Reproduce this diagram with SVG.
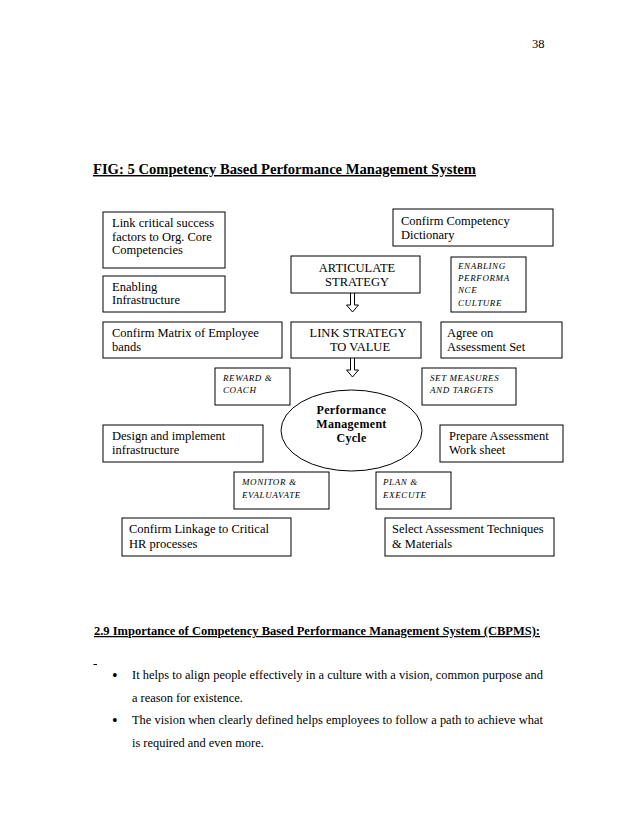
<svg xmlns="http://www.w3.org/2000/svg" width="638" height="826" viewBox="0 0 638 826">
<style>
.box{fill:#fff;stroke:#000;stroke-width:1}
.t{font-family:"Liberation Serif","Times New Roman",serif;font-size:12.5px;fill:#000}
.c{text-anchor:middle}
.it{font-family:"Liberation Serif","Times New Roman",serif;font-size:9px;font-style:italic;letter-spacing:0.6px;fill:#000}
.b{font-family:"Liberation Serif","Times New Roman",serif;font-size:12px;font-weight:bold;fill:#000;text-anchor:middle}
.body{font-family:"Liberation Serif","Times New Roman",serif;font-size:12.4px;fill:#000}
.bul{font-family:"Liberation Serif","Times New Roman",serif;font-size:16px;fill:#000}
.h{font-family:"Liberation Serif","Times New Roman",serif;font-weight:bold;fill:#000;text-decoration:underline}
.arr{fill:#fff;stroke:#000;stroke-width:1}
</style>
<rect x="0" y="0" width="638" height="826" fill="#fff"/>
<text class="t" x="532" y="48" font-size="13">38</text>
<text class="h" x="93" y="174" font-size="14.5" textLength="383" lengthAdjust="spacingAndGlyphs">FIG: 5 Competency Based Performance Management System</text>

<g id="connectors">
<path class="arr" d="M350.5,293 V305 H346.5 L352.5,312 L358.5,305 H354.5 V293"/>
<path class="arr" d="M350.5,358 V370 H346.5 L352.5,377 L358.5,370 H354.5 V358"/>
</g>

<g id="link-critical">
<rect class="box" x="103" y="212" width="122" height="56"/>
<text class="t" x="112" y="227">Link critical success</text>
<text class="t" x="112" y="240.5">factors to Org. Core</text>
<text class="t" x="112" y="254">Competencies</text>
</g>
<g id="enabling-infra">
<rect class="box" x="103" y="276" width="122" height="36"/>
<text class="t" x="112" y="290.5">Enabling</text>
<text class="t" x="112" y="304">Infrastructure</text>
</g>
<g id="confirm-matrix">
<rect class="box" x="103" y="322" width="179" height="36"/>
<text class="t" x="112" y="337">Confirm Matrix of Employee</text>
<text class="t" x="112" y="350.5">bands</text>
</g>
<g id="confirm-dictionary">
<rect class="box" x="393" y="209" width="160" height="37"/>
<text class="t" x="401" y="225">Confirm Competency</text>
<text class="t" x="401" y="238.5">Dictionary</text>
</g>
<g id="articulate">
<rect class="box" x="291" y="256" width="129" height="37"/>
<text class="t c" x="357" y="272">ARTICULATE</text>
<text class="t c" x="357" y="285.5">STRATEGY</text>
</g>
<g id="enabling-culture">
<rect class="box" x="451" y="257" width="75" height="55"/>
<text class="it" x="458" y="269">ENABLING</text>
<text class="it" x="458" y="281">PERFORMA</text>
<text class="it" x="458" y="292.5">NCE</text>
<text class="it" x="458" y="305.5">CULTURE</text>
</g>
<g id="link-value">
<rect class="box" x="291" y="322" width="130" height="36"/>
<text class="t c" x="358" y="337">LINK STRATEGY</text>
<text class="t c" x="360" y="350.5">TO VALUE</text>
</g>
<g id="agree">
<rect class="box" x="441" y="322" width="121" height="36"/>
<text class="t" x="447" y="337">Agree on</text>
<text class="t" x="447" y="350.5">Assessment Set</text>
</g>
<g id="reward">
<rect class="box" x="215" y="368" width="75" height="37"/>
<text class="it" x="223" y="381">REWARD &amp;</text>
<text class="it" x="223" y="393">COACH</text>
</g>
<g id="set-measures">
<rect class="box" x="422" y="368" width="94" height="37"/>
<text class="it" x="430" y="381">SET MEASURES</text>
<text class="it" x="430" y="393">AND TARGETS</text>
</g>
<g id="cycle">
<ellipse class="box" cx="351.5" cy="430.5" rx="70.5" ry="40.5"/>
<text class="b" x="351.5" y="414" letter-spacing="0.3">Performance</text>
<text class="b" x="351.5" y="428" letter-spacing="0.3">Management</text>
<text class="b" x="351.5" y="442" letter-spacing="0.3">Cycle</text>
</g>
<g id="design">
<rect class="box" x="103" y="425" width="160" height="37"/>
<text class="t" x="112" y="440">Design and implement</text>
<text class="t" x="112" y="454">infrastructure</text>
</g>
<g id="prepare">
<rect class="box" x="440" y="425" width="123" height="37"/>
<text class="t" x="449" y="440">Prepare Assessment</text>
<text class="t" x="449" y="454">Work sheet</text>
</g>
<g id="monitor">
<rect class="box" x="234" y="472" width="95" height="37"/>
<text class="it" x="242" y="485">MONITOR &amp;</text>
<text class="it" x="242" y="497.5">EVALUAVATE</text>
</g>
<g id="plan">
<rect class="box" x="376" y="472" width="75" height="37"/>
<text class="it" x="383" y="485">PLAN &amp;</text>
<text class="it" x="383" y="497.5">EXECUTE</text>
</g>
<g id="confirm-linkage">
<rect class="box" x="122" y="518" width="169" height="38"/>
<text class="t" x="129" y="533">Confirm Linkage to Critical</text>
<text class="t" x="129" y="548">HR processes</text>
</g>
<g id="select">
<rect class="box" x="385" y="518" width="169" height="38"/>
<text class="t" x="392" y="533">Select Assessment Techniques</text>
<text class="t" x="392" y="548">&amp; Materials</text>
</g>

<text class="h" x="94" y="635" font-size="12.5" textLength="446" lengthAdjust="spacingAndGlyphs">2.9 Importance of Competency Based Performance Management System (CBPMS):</text>
<line x1="93.5" y1="664.5" x2="97" y2="664.5" stroke="#000" stroke-width="1"/>
<text class="bul" x="112" y="681">•</text>
<text class="body" x="132" y="679" textLength="411" lengthAdjust="spacing">It helps to align people effectively in a culture with a vision, common purpose and</text>
<text class="body" x="132" y="702">a reason for existence.</text>
<text class="bul" x="112" y="726">•</text>
<text class="body" x="132" y="724" textLength="411" lengthAdjust="spacing">The vision when clearly defined helps employees to follow a path to achieve what</text>
<text class="body" x="132" y="747">is required and even more.</text>
</svg>
